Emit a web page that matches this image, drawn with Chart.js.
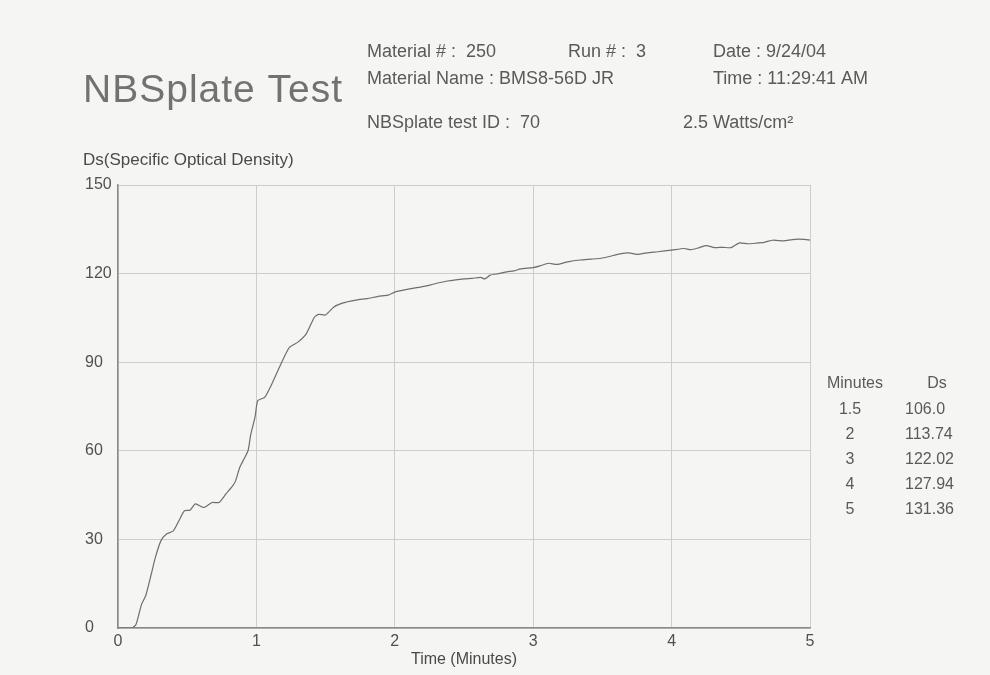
<!DOCTYPE html>
<html>
<head>
<meta charset="utf-8">
<title>NBSplate Test</title>
<script src="https://cdn.jsdelivr.net/npm/chart.js@4.4.1/dist/chart.umd.min.js"></script>
<style>
  html, body { margin: 0; padding: 0; background: #f5f5f4; }
  #wrap { width: 990px; height: 675px; }
</style>
</head>
<body>
<div id="wrap"><canvas id="nbsChart" width="990" height="675"></canvas></div>
<script>
// Run 3 - specific optical density against time
const timeMin = [0, 0.10, 0.13, 0.17, 0.20, 0.24, 0.27, 0.31, 0.35, 0.40, 0.44, 0.48, 0.52, 0.56, 0.62,
  0.68, 0.73, 0.78, 0.83, 0.85, 0.88, 0.91, 0.94, 0.96, 0.99, 1.01, 1.06, 1.10, 1.15, 1.20, 1.24,
  1.30, 1.36, 1.42, 1.45, 1.50, 1.56, 1.62, 1.68, 1.74, 1.80, 1.88, 1.95, 2.00, 2.07, 2.14, 2.20,
  2.26, 2.32, 2.38, 2.44, 2.50, 2.56, 2.62, 2.65, 2.69, 2.75, 2.81, 2.86, 2.91, 3.00, 3.05, 3.11,
  3.17, 3.25, 3.34, 3.42, 3.49, 3.55, 3.61, 3.69, 3.75, 3.82, 3.90, 4.00, 4.09, 4.14, 4.20, 4.25,
  4.31, 4.37, 4.43, 4.49, 4.55, 4.61, 4.67, 4.73, 4.81, 4.86, 4.91, 4.96, 5.00];
const dsValues = [0, 0, 1.2, 8.0, 10.9, 18.2, 23.9, 29.5, 31.8, 32.9, 36.3, 39.7, 39.9, 42.0, 40.8,
  42.5, 42.5, 45.4, 48.2, 49.9, 54.4, 57.2, 60.1, 65.7, 71.4, 77.0, 78.1, 81.5, 86.6, 91.7, 95.1,
  96.8, 99.6, 105.3, 106.2, 106.0, 108.7, 110.0, 110.7, 111.2, 111.5, 112.3, 112.7, 113.74, 114.5, 115.1, 115.6,
  116.2, 116.9, 117.5, 117.9, 118.2, 118.4, 118.7, 118.2, 119.5, 120.0, 120.6, 120.9, 121.6, 122.02, 122.6, 123.5,
  123.1, 124.0, 124.6, 124.9, 125.2, 125.8, 126.5, 127.0, 126.5, 127.0, 127.4, 127.94, 128.5, 128.1, 128.8, 129.5,
  128.8, 128.9, 128.8, 130.4, 130.1, 130.3, 130.6, 131.3, 131.1, 131.4, 131.7, 131.6, 131.36];

// summary table beside the plot
const tableMinutes = ['1.5', '2', '3', '4', '5'];
const tableDs = ['106.0', '113.74', '122.02', '127.94', '131.36'];

const xTickValues = [0, 1, 2, 3, 4, 5];
const yTickValues = [0, 30, 60, 90, 120, 150];

const reportTitle = 'NBSplate Test';
const yCaption = 'Ds(Specific Optical Density)';
const xCaption = 'Time (Minutes)';

const FONT = '"Liberation Sans", Arial, sans-serif';

// header block, caption and the Minutes/Ds table
const reportText = {
  id: 'reportText',
  afterDraw(chart) {
    const c = chart.ctx;
    c.save();
    c.textBaseline = 'alphabetic';
    c.textAlign = 'left';

    c.fillStyle = '#727272';
    c.font = '39px ' + FONT;
    c.letterSpacing = '1px';
    c.fillText(reportTitle, 83, 102);
    c.letterSpacing = '0px';

    c.fillStyle = '#5a5a5a';
    c.font = '18px ' + FONT;
    c.fillText('Material # :  250', 367, 57);
    c.fillText('Run # :  3', 568, 57);
    c.fillText('Date : 9/24/04', 713, 57);
    c.fillText('Material Name : BMS8-56D JR', 367, 84);
    c.fillText('Time : 11:29:41 AM', 713, 84);
    c.fillText('NBSplate test ID :  70', 367, 128);
    c.fillText('2.5 Watts/cm\u00B2', 683, 128);

    c.fillStyle = '#4a4a4a';
    c.font = '17px ' + FONT;
    c.fillText(yCaption, 83, 165);

    c.fillStyle = '#5a5a5a';
    c.font = '16px ' + FONT;
    c.textAlign = 'center';
    c.fillText('Minutes', 855, 388);
    c.fillText('Ds', 937, 388);
    tableMinutes.forEach((m, i) => {
      c.textAlign = 'center';
      c.fillText(m, 850, 414 + i * 25);
      c.textAlign = 'left';
      c.fillText(tableDs[i], 905, 414 + i * 25);
    });
    c.restore();
  }
};

const ctx = document.getElementById('nbsChart').getContext('2d');
const nbsChart = new Chart(ctx, {
  type: 'scatter',
  data: {
    datasets: [{
      data: timeMin.map((t, i) => ({ x: t, y: dsValues[i] })),
      showLine: true,
      borderColor: '#6e6e6e',
      borderWidth: 1.2,
      pointRadius: 0,
      tension: 0.2,
      fill: false
    }]
  },
  options: {
    responsive: false,
    animation: false,
    layout: { padding: { left: 85, top: 185, right: 180, bottom: 2 } },
    plugins: {
      legend: { display: false },
      tooltip: { enabled: false }
    },
    scales: {
      x: {
        type: 'linear',
        min: 0,
        max: 5,
        afterBuildTicks: (axis) => { axis.ticks = xTickValues.map(v => ({ value: v })); },
        afterFit: (axis) => { axis.height = 45; },
        grid: { color: '#cdcdcd', lineWidth: 1, drawTicks: false },
        border: { color: '#8a8a8a', width: 1.5 },
        ticks: { color: '#505050', padding: 4, font: { family: FONT, size: 16 } },
        title: {
          display: true,
          text: xCaption,
          color: '#4a4a4a',
          padding: { top: 0, bottom: 4 },
          font: { family: FONT, size: 16 }
        }
      },
      y: {
        type: 'linear',
        min: 0,
        max: 150,
        afterBuildTicks: (axis) => { axis.ticks = yTickValues.map(v => ({ value: v })); },
        afterFit: (axis) => { axis.width = 33; },
        grid: { color: '#cdcdcd', lineWidth: 1, drawTicks: false },
        border: { color: '#8a8a8a', width: 1.5 },
        ticks: { color: '#505050', crossAlign: 'far', padding: 4, font: { family: FONT, size: 16 } }
      }
    }
  },
  plugins: [reportText]
});
</script>
</body>
</html>
